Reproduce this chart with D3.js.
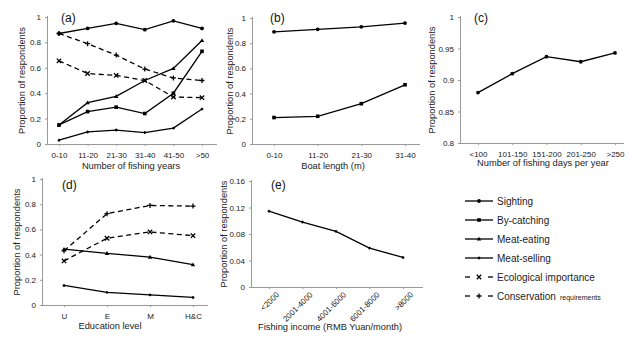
<!DOCTYPE html>
<html><head><meta charset="utf-8">
<script src="https://cdn.jsdelivr.net/npm/d3@7"></script>
<style>body{margin:0;background:#fff;}svg{display:block;font-family:"Liberation Sans",Arial,sans-serif;}</style>
</head><body><svg id="c" width="640" height="349"></svg>
<script>
// ---- data ----
const yearsCats = ["0-10","11-20","21-30","31-40","41-50",">50"];
const yearsSighting = [0.87,0.91,0.95,0.90,0.97,0.91];
const yearsBycatch = [0.15,0.255,0.29,0.24,0.40,0.73];
const yearsMeatEat = [0.15,0.325,0.375,0.50,0.595,0.815];
const yearsMeatSell = [0.03,0.095,0.11,0.09,0.125,0.275];
const yearsEcol = [0.655,0.555,0.54,0.50,0.37,0.365];
const yearsCons = [0.87,0.79,0.70,0.59,0.52,0.50];

const boatCats = ["0-10","11-20","21-30","31-40"];
const boatSighting = [0.89,0.91,0.93,0.96];
const boatBycatch = [0.21,0.22,0.32,0.47];

const daysCats = ["<100","101-150","151-200","201-250",">250"];
const daysSighting = [0.88,0.91,0.937,0.929,0.943];

const eduCats = ["U","E","M","H&C"];
const eduMeatEat = [0.443,0.41,0.38,0.32];
const eduMeatSell = [0.155,0.10,0.08,0.06];
const eduEcol = [0.35,0.53,0.58,0.55];
const eduCons = [0.43,0.725,0.79,0.785];

const incomeCats = ["<2000","2001-4000","4001-6000","6001-8000",">8000"];
const incomeMeatSell = [0.1144,0.098,0.084,0.0587,0.0446];

const ticksA = [0,0.2,0.4,0.6,0.8,1];
const ticksC = [0.8,0.85,0.9,0.95,1];
const ticksE = [0,0.04,0.08,0.12,0.16];

const legendNames = ["Sighting","By-catching","Meat-eating","Meat-selling","Ecological importance","Conservation"];

// ---- drawing ----
const svg = d3.select("#c");
const AX = "#9a9a9a";

function marker(g, type, x, y) {
  if (type === "circle") g.append("circle").attr("cx", x).attr("cy", y).attr("r", 1.9).attr("fill", "#000");
  else if (type === "square") g.append("rect").attr("x", x-1.8).attr("y", y-1.8).attr("width", 3.6).attr("height", 3.6).attr("fill", "#000");
  else if (type === "triangle") g.append("path").attr("d", `M${x},${y-2.3}L${x+2.2},${y+1.6}L${x-2.2},${y+1.6}Z`).attr("fill", "#000");
  else if (type === "diamond") g.append("path").attr("d", `M${x},${y-1.7}L${x+1.7},${y}L${x},${y+1.7}L${x-1.7},${y}Z`).attr("fill", "#000");
  else if (type === "x") g.append("path").attr("d", `M${x-2.2},${y-2.2}L${x+2.2},${y+2.2}M${x+2.2},${y-2.2}L${x-2.2},${y+2.2}`).attr("stroke", "#000").attr("stroke-width", 1.3);
  else if (type === "plus") g.append("path").attr("d", `M${x-2.5},${y}L${x+2.5},${y}M${x},${y-2.5}L${x},${y+2.5}`).attr("stroke", "#000").attr("stroke-width", 1.3);
}

function panel(cfg) {
  const g = svg.append("g");
  const x = d3.scalePoint().domain(cfg.cats).range(cfg.xr);
  const y = d3.scaleLinear().domain(cfg.yd).range([cfg.y0, cfg.y1]);
  // y axis
  const ya = g.append("g").attr("transform", `translate(${cfg.ax},0)`)
    .call(d3.axisLeft(y).tickValues(cfg.ticks).tickSize(3).tickPadding(4).tickFormat(d => String(+d.toFixed(2))));
  ya.select(".domain").attr("stroke", AX).attr("d", `M-0.5,${cfg.y0}V${cfg.y1 - 1}`);
  ya.selectAll(".tick line").attr("stroke", AX);
  ya.selectAll("text").attr("font-size", 8).attr("fill", "#222").attr("font-family", "Liberation Sans, Arial, sans-serif");
  // x axis
  const xa = g.append("g").attr("transform", `translate(0,${cfg.y0})`)
    .call(d3.axisBottom(x).tickSize(2).tickPadding(cfg.rot ? 3 : 6));
  xa.select(".domain").attr("stroke", AX).attr("d", `M${cfg.ax},0.5H${cfg.xEnd}`);
  xa.selectAll(".tick line").attr("stroke", AX);
  const xt = xa.selectAll("text").attr("font-size", 8).attr("fill", "#222").attr("font-family", "Liberation Sans, Arial, sans-serif");
  if (cfg.rot) {
    xt.attr("text-anchor", "end").attr("dy", "0.3em").attr("transform", "translate(5,3) rotate(-45)");
  }
  // titles
  g.append("text").attr("x", cfg.titleX).attr("y", cfg.titleY).attr("text-anchor", "middle")
    .attr("font-size", 9.3).attr("fill", "#222").text(cfg.title);
  g.append("text").attr("transform", `translate(${cfg.yTitleX},${(cfg.y0 + cfg.y1) / 2}) rotate(-90)`)
    .attr("text-anchor", "middle").attr("font-size", 9.3).attr("fill", "#222").text("Proportion of respondents");
  g.append("text").attr("x", cfg.lx).attr("y", cfg.ly).attr("font-size", 12).attr("fill", "#111").text(cfg.label);
  // series
  const line = d3.line().x((d, i) => x(cfg.cats[i])).y(d => y(d));
  cfg.series.forEach(s => {
    g.append("path").attr("d", line(s.v)).attr("fill", "none").attr("stroke", "#000")
      .attr("stroke-width", 1.3).attr("stroke-dasharray", s.dash ? "5,3.5" : null);
    s.v.forEach((v, i) => marker(g, s.m, x(cfg.cats[i]), y(v)));
  });
}

panel({cats: yearsCats, xr: [59, 202], ax: 48, xEnd: 217, yd: [0, 1], y0: 144, y1: 17, ticks: ticksA,
  title: "Number of fishing years", titleX: 131, titleY: 169, yTitleX: 25, label: "(a)", lx: 61, ly: 22,
  series: [
    {v: yearsSighting, m: "circle"}, {v: yearsBycatch, m: "square"}, {v: yearsMeatEat, m: "triangle"},
    {v: yearsMeatSell, m: "diamond"}, {v: yearsEcol, m: "x", dash: true}, {v: yearsCons, m: "plus", dash: true}]});

panel({cats: boatCats, xr: [274, 405], ax: 253, xEnd: 420, yd: [0, 1], y0: 144, y1: 18, ticks: ticksA,
  title: "Boat length (m)", titleX: 333, titleY: 169, yTitleX: 233, label: "(b)", lx: 270, ly: 22,
  series: [{v: boatSighting, m: "circle"}, {v: boatBycatch, m: "square"}]});

panel({cats: daysCats, xr: [478, 615], ax: 461, xEnd: 624, yd: [0.8, 1], y0: 143, y1: 17, ticks: ticksC,
  title: "Number of fishing days per year", titleX: 543, titleY: 166, yTitleX: 435, label: "(c)", lx: 474, ly: 22,
  series: [{v: daysSighting, m: "circle"}]});

panel({cats: eduCats, xr: [64, 193], ax: 43, xEnd: 208, yd: [0, 1], y0: 305, y1: 179, ticks: ticksA,
  title: "Education level", titleX: 110, titleY: 329, yTitleX: 20, label: "(d)", lx: 62, ly: 189,
  series: [
    {v: eduMeatEat, m: "triangle"}, {v: eduMeatSell, m: "diamond"},
    {v: eduEcol, m: "x", dash: true}, {v: eduCons, m: "plus", dash: true}]});

panel({cats: incomeCats, xr: [269, 403], ax: 252, xEnd: 423, yd: [0, 0.16], y0: 287, y1: 181, ticks: ticksE,
  title: "Fishing income (RMB Yuan/month)", titleX: 330, titleY: 330, yTitleX: 227, label: "(e)", lx: 271, ly: 189, rot: true,
  series: [{v: incomeMeatSell, m: "diamond"}]});

// legend
const legMarkers = ["circle", "square", "triangle", "diamond", "x", "plus"];
const lg = svg.append("g");
legendNames.forEach((name, i) => {
  const yy = 201 + i * 19;
  if (i < 4) {
    lg.append("line").attr("x1", 465).attr("x2", 493).attr("y1", yy).attr("y2", yy).attr("stroke", "#000").attr("stroke-width", 1.3);
  } else {
    lg.append("line").attr("x1", 465).attr("x2", 470).attr("y1", yy).attr("y2", yy).attr("stroke", "#000").attr("stroke-width", 1.3);
    lg.append("line").attr("x1", 488).attr("x2", 493).attr("y1", yy).attr("y2", yy).attr("stroke", "#000").attr("stroke-width", 1.3);
  }
  marker(lg, legMarkers[i], 479, yy);
  const t = lg.append("text").attr("x", 497).attr("y", yy + 3.5).attr("font-size", 10).attr("fill", "#222").text(name);
  if (i === 5) t.append("tspan").attr("font-size", 7).attr("dx", 4).text("requirements");
});
</script></body></html>
